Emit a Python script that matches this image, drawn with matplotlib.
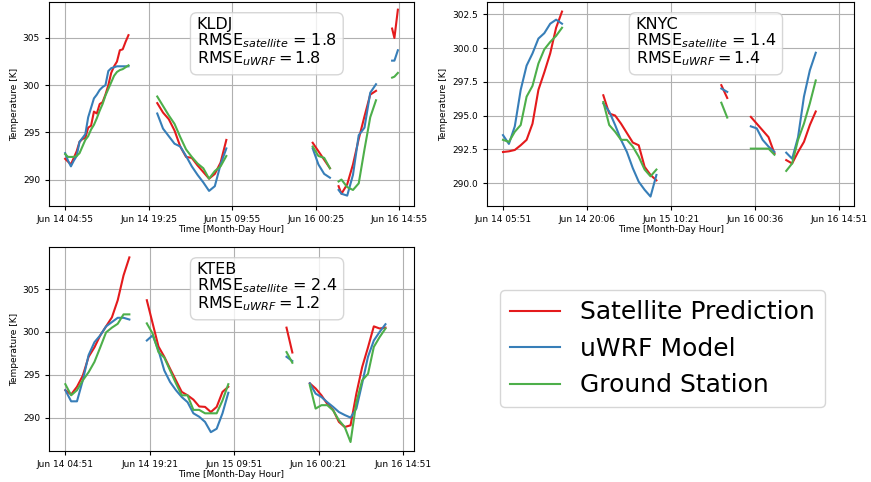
import datetime
import numpy as np
import matplotlib
matplotlib.use('Agg')
import matplotlib.pyplot as plt
import matplotlib.dates as mdates
from matplotlib.ticker import MultipleLocator, FormatStrFormatter

nan = np.nan

# KLDJ - hours after Jun 14 04:55
kldj_hours = [0, 0.5, 1, 1.5, 2, 2.5, 3, 3.5, 4, 4.5, 5, 5.5, 6, 6.5, 7, 7.5, 8, 8.5, 9, 9.5, 10, 10.5, 11, nan,
              16, 17, 18, 19, 20, 21, 22, 23, 24, 25, 26, 27, 28, nan,
              43, 44, 45, 46, nan,
              47.5, 48, 49, 50, 51, 52, 53, 54, nan,
              56.8, 57.2, 57.8]
kldj_sat = [292.2, 291.9, 291.6, 292.3, 293.0, 294.0, 294.3, 294.4, 295.5, 295.7, 297.2, 297.0, 298.0, 298.2, 299.0, 300.0, 301.3, 302.0, 302.5, 303.7, 303.8, 304.6, 305.3, nan,
            298.1, 297.1, 296.4, 295.2, 293.5, 292.4, 292.3, 291.5, 290.8, 290.1, 290.6, 291.8, 294.2, nan,
            293.9, 293.0, 292.1, 291.2, nan,
            289.3, 288.5, 289.5, 291.6, 294.3, 296.7, 299.0, 299.4, nan,
            306.0, 305.0, 308.0]
kldj_wrf = [292.8, 292.0, 291.4, 292.0, 292.5, 294.0, 294.4, 294.8, 296.6, 297.6, 298.6, 299.0, 299.5, 299.8, 300.0, 301.5, 301.8, 301.9, 302.0, 302.0, 302.0, 302.0, 302.0, nan,
            297.0, 295.4, 294.6, 293.8, 293.5, 292.5, 291.4, 290.5, 289.7, 288.8, 289.3, 291.6, 293.3, nan,
            293.3, 291.6, 290.6, 290.2, nan,
            288.9, 288.5, 288.3, 290.5, 294.7, 295.5, 299.2, 300.1, nan,
            302.6, 302.6, 303.7]
kldj_gs = [292.7, 292.4, 292.4, 292.4, 292.5, 292.8, 293.5, 294.2, 294.6, 295.3, 295.8, 296.5, 297.3, 298.0, 298.9, 299.6, 300.3, 301.0, 301.4, 301.6, 301.7, 301.9, 302.1, nan,
           298.8, 297.8, 296.8, 295.9, 294.5, 293.2, 292.4, 291.7, 291.2, 290.1, 290.9, 291.4, 292.5, nan,
           293.5, 292.5, 292.3, 291.2, nan,
           289.8, 290.0, 289.2, 288.9, 289.6, 293.2, 296.6, 298.4, nan,
           300.8, 300.9, 301.3]

# KNYC - hours after Jun 14 05:51
knyc_hours = [0, 1, 2, 3, 4, 5, 6, 7, 8, 9, 10, nan,
              17, 18, 19, 20, 21, 22, 23, 24, 25, 26, nan,
              37, 38, nan,
              42, 43, 44, 45, 46, nan,
              48, 49, 50, 51, 52, 53]
knyc_sat = [292.3, 292.35, 292.45, 292.8, 293.2, 294.4, 296.9, 298.2, 299.6, 301.5, 302.7, nan,
            296.5, 295.15, 295.0, 294.4, 293.7, 293.0, 292.8, 291.2, 290.6, 290.2, nan,
            297.25, 296.3, nan,
            294.9, 294.4, 293.9, 293.4, 292.2, nan,
            291.7, 291.45, 292.3, 293.05, 294.3, 295.3]
knyc_wrf = [293.55, 292.9, 294.2, 296.9, 298.7, 299.6, 300.7, 301.1, 301.8, 302.1, 301.8, nan,
            295.9, 295.3, 294.3, 293.2, 292.3, 291.1, 290.1, 289.5, 289.0, 290.6, nan,
            297.0, 296.75, nan,
            294.2, 294.05, 293.2, 292.7, 292.3, nan,
            292.25, 291.8, 293.4, 296.4, 298.35, 299.65]
knyc_gs = [293.2, 293.05, 293.8, 294.3, 296.4, 297.2, 298.85, 299.9, 300.45, 300.9, 301.5, nan,
           296.0, 294.3, 293.8, 293.2, 293.2, 292.7, 291.95, 291.0, 290.5, 291.0, nan,
           295.95, 294.85, nan,
           292.55, 292.55, 292.55, 292.55, 292.1, nan,
           290.9, 291.45, 293.2, 294.4, 295.9, 297.6]

# KTEB - hours after Jun 14 04:51
kteb_hours = [0, 1, 2, 3, 4, 5, 6, 7, 8, 9, 10, 11, nan,
              14, 15, 16, 17, 18, 19, 20, 21, 22, 23, 24, 25, 26, 27, 28, nan,
              38, 39, nan,
              42, 43, 44, 45, 46, 47, 48, 49, 50, 51, 52, 53, 54, 55]
kteb_sat = [293.2, 292.7, 293.6, 294.9, 297.1, 298.2, 299.6, 300.65, 301.7, 303.7, 306.6, 308.7, nan,
            303.7, 301.0, 298.3, 297.1, 295.7, 294.35, 293.0, 292.6, 292.1, 291.3, 291.25, 290.65, 291.25, 293.0, 293.6, nan,
            300.5, 297.6, nan,
            294.0, 293.4, 292.6, 291.6, 290.9, 289.5, 288.9, 289.1, 292.8, 295.9, 298.2, 300.65, 300.4, 300.5]
kteb_wrf = [293.2, 291.9, 291.9, 294.35, 297.3, 298.8, 299.6, 300.65, 301.15, 301.65, 301.65, 301.45, nan,
            299.0, 299.6, 297.85, 295.5, 294.15, 293.2, 292.4, 291.8, 290.5, 290.1, 289.5, 288.3, 288.7, 290.5, 292.9, nan,
            297.1, 296.6, nan,
            294.0, 292.8, 292.4, 291.8, 291.25, 290.65, 290.3, 290.0, 291.05, 294.0, 297.1, 299.0, 300.0, 300.9]
kteb_gs = [293.9, 292.6, 293.2, 294.35, 295.3, 296.5, 298.2, 299.95, 300.5, 300.95, 302.05, 302.05, nan,
           301.0, 299.8, 297.65, 297.0, 295.5, 294.0, 292.6, 292.6, 290.9, 290.9, 290.5, 290.5, 290.5, 292.0, 293.9, nan,
           297.65, 296.4, nan,
           293.8, 291.05, 291.45, 291.45, 290.85, 289.7, 288.9, 287.15, 291.8, 294.35, 295.1, 298.25, 299.4, 300.4]

stations = ['KLDJ', 'KNYC', 'KTEB']
rmse_sat = [1.8, 1.4, 2.4]
rmse_wrf = [1.8, 1.4, 1.2]
start_times = [datetime.datetime(2018, 6, 14, 4, 55),
               datetime.datetime(2018, 6, 14, 5, 51),
               datetime.datetime(2018, 6, 14, 4, 51)]
tick_steps = [14.5, 14.25, 14.5]
ytick_steps = [5, 2.5, 5]
ytick_fmt = ['%d', '%.1f', '%d']

series_labels = ['Satellite Prediction', 'uWRF Model', 'Ground Station']
series_colors = ['#e41a1c', '#377eb8', '#4daf4a']

fig = plt.figure(figsize=(8.71, 4.82), dpi=100)
axes_pos = [[0.0563, 0.5726, 0.419, 0.423],
            [0.5592, 0.5726, 0.4214, 0.423],
            [0.0563, 0.0643, 0.419, 0.423]]
xlims = [(-2.8, 60.6), (-2.7, 59.5), (-2.8, 59.9)]
ylims = [(287.2, 308.8), (288.3, 303.4), (286.1, 309.9)]

all_data = [(kldj_hours, kldj_sat, kldj_wrf, kldj_gs),
            (knyc_hours, knyc_sat, knyc_wrf, knyc_gs),
            (kteb_hours, kteb_sat, kteb_wrf, kteb_gs)]

lines = []
for i, name in enumerate(stations):
    ax = fig.add_axes(axes_pos[i])
    hours, sat, wrf, gs = all_data[i]
    t0 = mdates.date2num(start_times[i])
    x = t0 + np.array(hours) / 24.0
    lines = []
    for vals, lab, col in zip([sat, wrf, gs], series_labels, series_colors):
        ln, = ax.plot(x, vals, color=col, lw=1.5, label=lab)
        lines.append(ln)

    ticks = t0 + np.arange(5) * tick_steps[i] / 24.0
    ax.set_xticks(ticks)
    ax.xaxis.set_major_formatter(mdates.DateFormatter('%b %d %H:%M'))
    ax.set_xlim(t0 + xlims[i][0] / 24.0, t0 + xlims[i][1] / 24.0)
    ax.set_ylim(*ylims[i])
    ax.yaxis.set_major_locator(MultipleLocator(ytick_steps[i]))
    ax.yaxis.set_major_formatter(FormatStrFormatter(ytick_fmt[i]))
    ax.grid(True, color='#b0b0b0', lw=0.8)
    ax.tick_params(labelsize=6.5, length=3)
    ax.set_xlabel('Time [Month-Day Hour]', fontsize=6.5, labelpad=1)
    ax.set_ylabel('Temperature [K]', fontsize=6.5, labelpad=3)

    txt = name + '\n' + r'RMSE$_{satellite}$ = %.1f' % rmse_sat[i] + '\n' + r'RMSE$_{uWRF} = %.1f$' % rmse_wrf[i]
    ax.text(0.405, 0.925, txt, transform=ax.transAxes, fontsize=11.5, va='top', ha='left',
            linespacing=0.95,
            bbox=dict(boxstyle='round,pad=0.4', facecolor='white', alpha=0.8, edgecolor='0.8'))

fig.legend(lines, series_labels, loc='center', bbox_to_anchor=(0.761, 0.276), fontsize=18,
           framealpha=0.8, edgecolor='0.8', fancybox=True)

fig.savefig('out.png', dpi=100)
